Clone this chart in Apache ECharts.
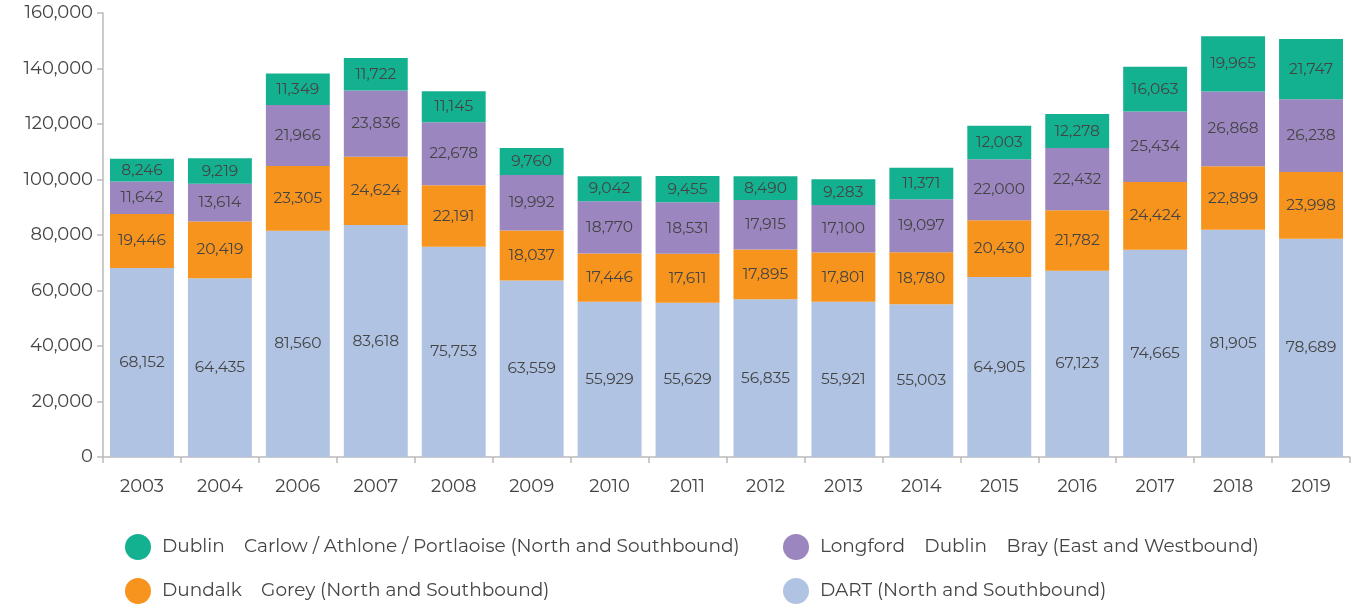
<!DOCTYPE html>
<html>
<head>
<meta charset="utf-8">
<script src="https://cdn.jsdelivr.net/npm/echarts@6/dist/echarts.min.js"></script>
<style>
html, body { margin: 0; padding: 0; background: #fff; }
#chart { width: 1362px; height: 606px; }
</style>
</head>
<body>
<div id="chart"></div>
<script>
const years = ['2003', '2004', '2006', '2007', '2008', '2009', '2010', '2011', '2012', '2013', '2014', '2015', '2016', '2017', '2018', '2019']
const dart = [68152, 64435, 81560, 83618, 75753, 63559, 55929, 55629, 56835, 55921, 55003, 64905, 67123, 74665, 81905, 78689]
const dundalk = [19446, 20419, 23305, 24624, 22191, 18037, 17446, 17611, 17895, 17801, 18780, 20430, 21782, 24424, 22899, 23998]
const longford = [11642, 13614, 21966, 23836, 22678, 19992, 18770, 18531, 17915, 17100, 19097, 22000, 22432, 25434, 26868, 26238]
const carlow = [8246, 9219, 11349, 11722, 11145, 9760, 9042, 9455, 8490, 9283, 11371, 12003, 12278, 16063, 19965, 21747]

const nameCarlow = 'Dublin    Carlow / Athlone / Portlaoise (North and Southbound)'
const nameLongford = 'Longford    Dublin    Bray (East and Westbound)'
const nameDundalk = 'Dundalk    Gorey (North and Southbound)'
const nameDart = 'DART (North and Southbound)'

const fontFamily = 'Montserrat, "Open Sans", Lato, sans-serif'

function makeSeries(name, data, color) {
    return {
        name: name,
        type: 'bar',
        stack: 'total',
        barCategoryGap: '18%',
        itemStyle: { color: color },
        label: {
            show: true,
            position: 'inside',
            color: '#444',
            fontSize: 15.5,
            fontFamily: fontFamily,
            formatter: p => p.value.toLocaleString('en-US')
        },
        data: data
    }
}

// one legend per item so the 2x2 layout stays put
function makeLegend(name, left, top) {
    return {
        left: left,
        top: top,
        padding: 0,
        icon: 'circle',
        itemWidth: 26,
        itemHeight: 26,
        textStyle: { color: '#444', fontSize: 18.5, fontFamily: fontFamily, padding: [0, 0, 0, 6] },
        data: [name]
    }
}

const option = {
    animation: false,
    grid: { left: 103, right: 12, top: 13, bottom: 149 },
    legend: [
        makeLegend(nameCarlow, 125, 534),
        makeLegend(nameDundalk, 125, 578),
        makeLegend(nameLongford, 783, 534),
        makeLegend(nameDart, 783, 578)
    ],
    xAxis: {
        type: 'category',
        data: years,
        axisLine: { lineStyle: { color: '#bbb', width: 1.5 } },
        axisTick: { show: true, alignWithLabel: false, length: 6, lineStyle: { color: '#bbb', width: 1.5 } },
        axisLabel: { color: '#444', fontSize: 18, fontFamily: fontFamily, margin: 21 }
    },
    yAxis: {
        type: 'value',
        min: 0,
        max: 160000,
        interval: 20000,
        splitLine: { show: false },
        axisLine: { show: true, lineStyle: { color: '#bbb', width: 1.5 } },
        axisTick: { show: true, length: 6, lineStyle: { color: '#bbb', width: 1.5 } },
        axisLabel: {
            color: '#444',
            fontSize: 18,
            fontFamily: fontFamily,
            margin: 10,
            formatter: v => v.toLocaleString('en-US')
        }
    },
    series: [
        makeSeries(nameDart, dart, '#b0c3e3'),
        makeSeries(nameDundalk, dundalk, '#f7941d'),
        makeSeries(nameLongford, longford, '#9b86bf'),
        makeSeries(nameCarlow, carlow, '#14b191')
    ]
}

const chart = echarts.init(document.getElementById('chart'))
chart.setOption(option)
window.addEventListener('resize', () => {
    chart.resize()
})
</script>
</body>
</html>
